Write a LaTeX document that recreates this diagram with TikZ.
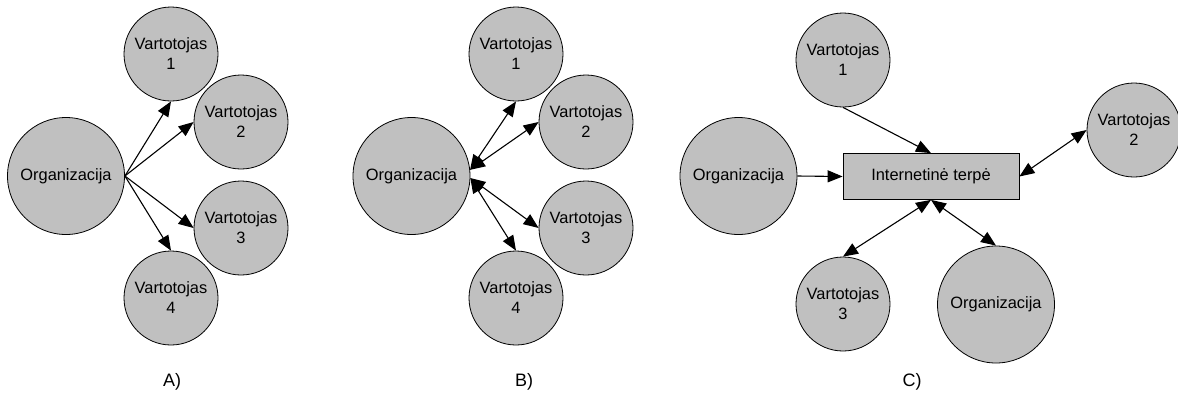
\documentclass[tikz,border=0pt]{standalone}
\usepackage{fontspec}
\setmainfont{Liberation Sans}
\usetikzlibrary{arrows.meta}
\definecolor{nodegray}{RGB}{192,192,192}
\tikzset{
  party/.style={circle, draw=black, line width=0.8pt, fill=nodegray,
    inner sep=0pt, align=center, font=\fontsize{16.4}{20}\selectfont},
  small/.style={party, minimum size=94pt},
  big/.style={party, minimum size=117pt},
  medium/.style={rectangle, draw=black, line width=0.8pt, fill=nodegray,
    minimum width=176pt, minimum height=46pt, inner sep=0pt,
    font=\fontsize{16.4}{20}\selectfont},
  caption/.style={font=\fontsize{18}{20}\selectfont},
  link/.style={line width=1.1pt, -{Triangle[length=15pt,width=12pt]}},
  dlink/.style={line width=1.1pt, {Triangle[length=15pt,width=12pt]}-{Triangle[length=15pt,width=12pt]}}
}
\begin{document}
\begin{tikzpicture}[x=1pt, y=-1pt]
  \useasboundingbox (0,0) rectangle (1178,408);

  % A) one-way distribution
  \node[big]   (aorg) at (66,176)  {Organizacija};
  \node[small] (av1)  at (171,54)  {Vartotojas\\1};
  \node[small] (av2)  at (241,122) {Vartotojas\\2};
  \node[small] (av3)  at (241,228) {Vartotojas\\3};
  \node[small] (av4)  at (171,298) {Vartotojas\\4};
  \draw[link] (aorg.east) -- (av1.south);
  \draw[link] (aorg.east) -- (av2.west);
  \draw[link] (aorg.east) -- (av3.west);
  \draw[link] (aorg.east) -- (av4.north);
  \node[caption] (capa) at (172,382) {A)};

  % B) two-way exchange
  \node[big]   (borg) at (411.5,176) {Organizacija};
  \node[small] (bv1)  at (516,54)  {Vartotojas\\1};
  \node[small] (bv2)  at (586,122) {Vartotojas\\2};
  \node[small] (bv3)  at (586,228) {Vartotojas\\3};
  \node[small] (bv4)  at (516,298) {Vartotojas\\4};
  \draw[dlink] (borg.6)  -- (bv1.south);
  \draw[dlink] (borg.6)  -- (bv2.west);
  \draw[dlink] (borg.-2) -- (bv3.west);
  \draw[dlink] (borg.-2) -- (bv4.north);
  \node[caption] (capb) at (524,382) {B)};

  % C) exchange through the internet medium
  \node[medium] (net)  at (931,176.5) {Internetinė terpė};
  \node[big]    (corg) at (738.5,176) {Organizacija};
  \node[small]  (cv1)  at (843,60)   {Vartotojas\\1};
  \node[small]  (cv2)  at (1134,130) {Vartotojas\\2};
  \node[small]  (cv3)  at (843,304)  {Vartotojas\\3};
  \node[big]    (corg2) at (996,304.5) {Organizacija};
  \draw[link]  (cv1.south) -- (net.north);
  \draw[link]  (corg.east) -- (net.west);
  \draw[dlink] (net.east)  -- (cv2.west);
  \draw[dlink] (net.south) -- (cv3.north);
  \draw[dlink] (net.south) -- (corg2.north);
  \node[caption] (capc) at (912,382) {C)};
\end{tikzpicture}
\end{document}
